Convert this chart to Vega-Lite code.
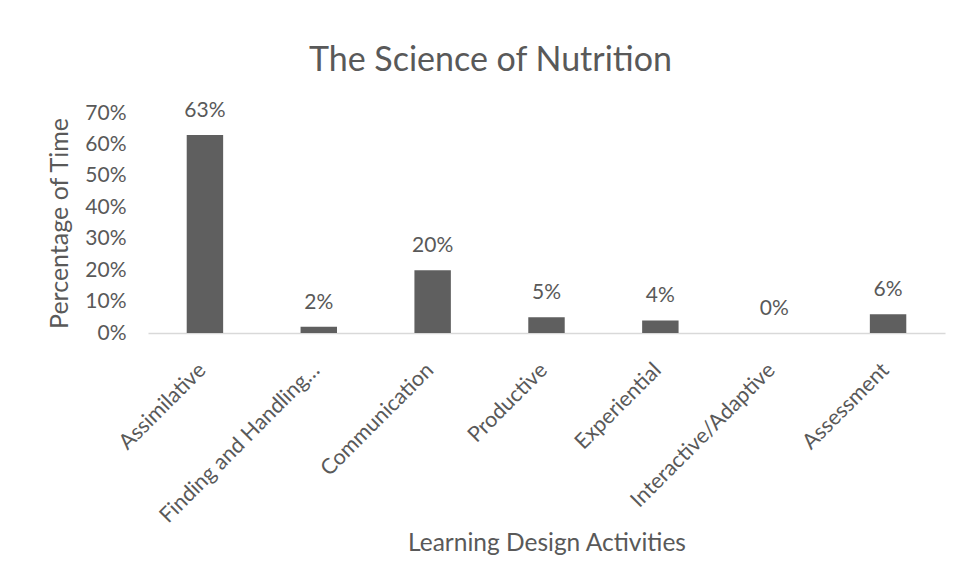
{
  "$schema": "https://vega.github.io/schema/vega-lite/v6.json",
  "width": 797,
  "height": 220,
  "autosize": "none",
  "padding": {"left": 148, "top": 113, "right": 15, "bottom": 250},
  "background": "white",
  "title": {
    "text": "The Science of Nutrition",
    "fontSize": 34,
    "font": "Lato",
    "fontWeight": "normal",
    "color": "#595959",
    "anchor": "middle",
    "dx": -56,
    "offset": 22
  },
  "data": {
    "values": [
      {"activity": "Assimilative", "value": 0.63},
      {"activity": "Finding and Handling…", "value": 0.02},
      {"activity": "Communication", "value": 0.20},
      {"activity": "Productive", "value": 0.05},
      {"activity": "Experiential", "value": 0.04},
      {"activity": "Interactive/Adaptive", "value": 0.0},
      {"activity": "Assessment", "value": 0.06}
    ]
  },
  "encoding": {
    "x": {
      "field": "activity",
      "type": "nominal",
      "sort": null,
      "scale": {"paddingInner": 0.68, "paddingOuter": 0.34},
      "axis": {
        "title": "Learning Design Activities",
        "titleFont": "Lato",
        "titleFontSize": 24.5,
        "titleFontWeight": "normal",
        "titleColor": "#595959",
        "titlePadding": 5,
        "labelAngle": -45,
        "labelFont": "Lato",
        "labelFontSize": 21.5,
        "labelColor": "#595959",
        "labelPadding": 26,
        "labelOffset": -10,
        "labelLimit": 300,
        "ticks": false,
        "domainColor": "#d9d9d9",
        "domainWidth": 1.5,
        "grid": false
      }
    },
    "y": {
      "field": "value",
      "type": "quantitative",
      "scale": {"domain": [0, 0.7], "nice": false},
      "axis": {
        "title": "Percentage of Time",
        "titleFont": "Lato",
        "titleFontSize": 25,
        "titleFontWeight": "normal",
        "titleColor": "#595959",
        "titlePadding": 12,
        "format": ".0%",
        "values": [0, 0.1, 0.2, 0.3, 0.4, 0.5, 0.6, 0.7],
        "labelFont": "Lato",
        "labelFontSize": 21,
        "labelColor": "#595959",
        "labelPadding": 22,
        "ticks": false,
        "domain": false,
        "grid": false
      }
    }
  },
  "layer": [
    {"mark": {"type": "bar", "color": "#5f5f5f"}},
    {
      "mark": {"type": "text", "baseline": "bottom", "dy": -14, "font": "Lato", "fontSize": 21, "color": "#595959"},
      "encoding": {"text": {"field": "value", "type": "quantitative", "format": ".0%"}}
    }
  ],
  "config": {"view": {"stroke": null}}
}
